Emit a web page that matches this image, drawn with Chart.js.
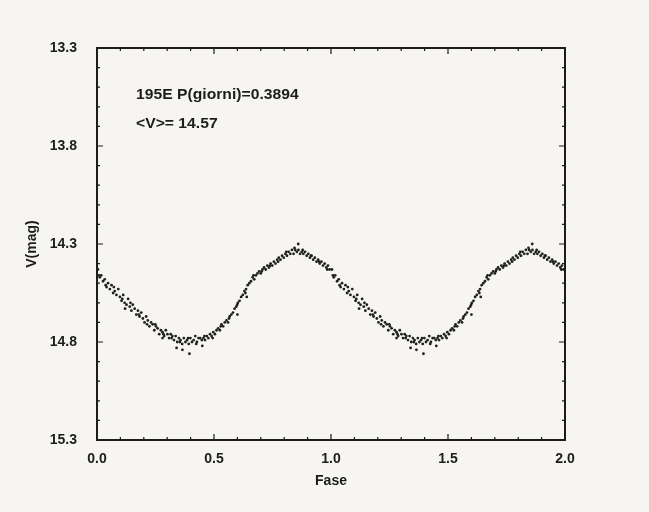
<!DOCTYPE html>
<html>
<head>
<meta charset="utf-8">
<script src="https://cdn.jsdelivr.net/npm/chart.js@4/dist/chart.umd.min.js"></script>
<style>
  html, body { margin: 0; padding: 0; background: #f6f5f1; }
  #wrap { width: 649px; height: 512px; }
</style>
</head>
<body>
<div id="wrap"><canvas id="lightCurve"></canvas></div>
<script>
// phase-folded observations (one cycle, plotted again at phase + 1)
const phase = [
  0.004, 0.012, 0.018, 0.026, 0.033, 0.041, 0.047, 0.055, 0.062, 0.069,
  0.076, 0.083, 0.091, 0.098, 0.105, 0.112, 0.118, 0.126, 0.133, 0.140,
  0.147, 0.153, 0.161, 0.168, 0.175, 0.182, 0.189, 0.196, 0.203, 0.210,
  0.217, 0.224, 0.231, 0.238, 0.245, 0.252, 0.259, 0.266, 0.273, 0.280,
  0.287, 0.294, 0.301, 0.308, 0.315, 0.322, 0.329, 0.336, 0.343, 0.350,
  0.357, 0.364, 0.371, 0.378, 0.385, 0.392, 0.399, 0.406, 0.413, 0.420,
  0.427, 0.434, 0.441, 0.448, 0.455, 0.462, 0.469, 0.476, 0.483, 0.490,
  0.497, 0.504, 0.511, 0.518, 0.525, 0.532, 0.539, 0.546, 0.553, 0.560,
  0.567, 0.574, 0.581, 0.588, 0.595, 0.602, 0.609, 0.616, 0.623, 0.630,
  0.637, 0.644, 0.651, 0.658, 0.665, 0.672, 0.679, 0.686, 0.693, 0.700,
  0.707, 0.714, 0.721, 0.728, 0.735, 0.742, 0.749, 0.756, 0.763, 0.770,
  0.777, 0.784, 0.791, 0.798, 0.805, 0.812, 0.819, 0.826, 0.833, 0.840,
  0.847, 0.854, 0.861, 0.868, 0.875, 0.882, 0.889, 0.896, 0.903, 0.910,
  0.917, 0.924, 0.931, 0.938, 0.945, 0.952, 0.959, 0.966, 0.973, 0.980,
  0.987, 0.994,
  0.008, 0.037, 0.072, 0.108, 0.143, 0.179, 0.214, 0.249, 0.284, 0.319,
  0.354, 0.389, 0.424, 0.459, 0.494, 0.529, 0.564, 0.599, 0.634, 0.669,
  0.704, 0.739, 0.774, 0.809, 0.844, 0.879, 0.914, 0.949, 0.984,
  0.395, 0.365, 0.340, 0.600, 0.640, 0.860, 0.120, 0.280, 0.450
];
const vmag = [
  14.43, 14.47, 14.46, 14.49, 14.48, 14.52, 14.50, 14.53, 14.51, 14.55,
  14.54, 14.56, 14.53, 14.57, 14.59, 14.56, 14.60, 14.61, 14.58, 14.62,
  14.64, 14.61, 14.63, 14.66, 14.64, 14.67, 14.65, 14.68, 14.70, 14.67,
  14.69, 14.72, 14.70, 14.71, 14.74, 14.72, 14.73, 14.76, 14.74, 14.75,
  14.77, 14.74, 14.76, 14.78, 14.76, 14.77, 14.79, 14.77, 14.80, 14.78,
  14.79, 14.81, 14.78, 14.80, 14.79, 14.81, 14.78, 14.80, 14.79, 14.77,
  14.80, 14.78, 14.78, 14.79, 14.78, 14.79, 14.77, 14.78, 14.76, 14.77,
  14.75, 14.76, 14.74, 14.73, 14.74, 14.71, 14.72, 14.70, 14.69, 14.70,
  14.67, 14.66, 14.65, 14.63, 14.62, 14.60, 14.59, 14.57, 14.56, 14.54,
  14.53, 14.51, 14.50, 14.49, 14.47, 14.48, 14.46, 14.45, 14.44, 14.45,
  14.43, 14.42, 14.43, 14.41, 14.42, 14.40, 14.41, 14.39, 14.40, 14.38,
  14.37, 14.38, 14.36, 14.37, 14.35, 14.36, 14.34, 14.35, 14.33, 14.35,
  14.33, 14.34, 14.33, 14.35, 14.34, 14.35, 14.34, 14.36, 14.35, 14.37,
  14.36, 14.38, 14.37, 14.39, 14.38, 14.40, 14.39, 14.41, 14.40, 14.42,
  14.41, 14.43,
  14.46, 14.51, 14.52, 14.58, 14.60, 14.66, 14.71, 14.71, 14.76, 14.78,
  14.80, 14.78, 14.81, 14.77, 14.78, 14.72, 14.68, 14.61, 14.55, 14.46,
  14.44, 14.41, 14.39, 14.34, 14.32, 14.33, 14.36, 14.39, 14.43,
  14.86, 14.84, 14.83, 14.66, 14.57, 14.30, 14.63, 14.78, 14.82
];
const cycles = [0, 1];
const majorX = [0.0, 0.5, 1.0, 1.5, 2.0];
const majorY = [13.3, 13.8, 14.3, 14.8, 15.3];
const infoLines = ['195E P(giorni)=0.3894', '<V>= 14.57'];

const points = [];
cycles.forEach(c => {
  phase.forEach((p, i) => points.push({ x: p + c, y: vmag[i] }));
});

const isMajor = (v, list) => list.some(m => Math.abs(m - v) < 1e-6);
const ink = '#1c1c1c';
const font = { family: 'Liberation Sans, Arial, sans-serif', size: 14, weight: 'bold' };

// inner ticks on all four sides, box, and the two text lines
const frameDecor = {
  id: 'frameDecor',
  afterDraw(chart) {
    const { ctx, chartArea: a, scales } = chart;
    ctx.save();
    ctx.strokeStyle = ink;
    ctx.lineWidth = 1.2;
    scales.x.ticks.forEach(t => {
      const px = scales.x.getPixelForValue(t.value);
      const len = isMajor(t.value, majorX) ? 6 : 3;
      ctx.beginPath();
      ctx.moveTo(px, a.bottom); ctx.lineTo(px, a.bottom - len);
      ctx.moveTo(px, a.top); ctx.lineTo(px, a.top + len);
      ctx.stroke();
    });
    scales.y.ticks.forEach(t => {
      const py = scales.y.getPixelForValue(t.value);
      const len = isMajor(t.value, majorY) ? 6 : 3;
      ctx.beginPath();
      ctx.moveTo(a.left, py); ctx.lineTo(a.left + len, py);
      ctx.moveTo(a.right, py); ctx.lineTo(a.right - len, py);
      ctx.stroke();
    });
    ctx.lineWidth = 2;
    ctx.strokeRect(a.left, a.top, a.right - a.left, a.bottom - a.top);
    ctx.fillStyle = ink;
    ctx.font = 'bold 14px "Liberation Sans", Arial, sans-serif';
    ctx.textBaseline = 'middle';
    const tx = scales.x.getPixelForValue(0.167);
    [13.54, 13.69].forEach((yv, i) => {
      ctx.save();
      ctx.translate(tx, scales.y.getPixelForValue(yv));
      ctx.scale(1.12, 1);
      ctx.fillText(infoLines[i], 0, 0);
      ctx.restore();
    });
    ctx.restore();
  }
};

new Chart(document.getElementById('lightCurve').getContext('2d'), {
  type: 'scatter',
  data: {
    datasets: [{
      label: 'V',
      data: points,
      backgroundColor: '#202020',
      borderWidth: 0,
      pointRadius: 1.4
    }]
  },
  options: {
    responsive: true,
    maintainAspectRatio: false,
    animation: false,
    layout: { padding: { left: 20, right: 84, top: 48, bottom: 18 } },
    plugins: { legend: { display: false }, tooltip: { enabled: false } },
    scales: {
      x: {
        type: 'linear',
        min: 0, max: 2,
        border: { display: false },
        grid: { display: false },
        ticks: {
          stepSize: 0.1,
          autoSkip: false,
          maxRotation: 0,
          color: ink,
          font: font,
          padding: 3,
          callback: v => isMajor(v, majorX) ? v.toFixed(1) : ''
        },
        title: { display: true, text: 'Fase', color: ink, font: font, padding: { top: 4 } },
        afterFit: s => { s.height = 54; }
      },
      y: {
        type: 'linear',
        reverse: true,
        min: 13.3, max: 15.3,
        border: { display: false },
        grid: { display: false },
        ticks: {
          stepSize: 0.1,
          autoSkip: false,
          color: ink,
          font: font,
          padding: 12,
          callback: v => isMajor(v, majorY) ? v.toFixed(1) : ''
        },
        title: { display: true, text: 'V(mag)', color: ink, font: font, padding: { bottom: 14 } },
        afterFit: s => { s.width = 77; }
      }
    }
  },
  plugins: [frameDecor]
});
</script>
</body>
</html>
